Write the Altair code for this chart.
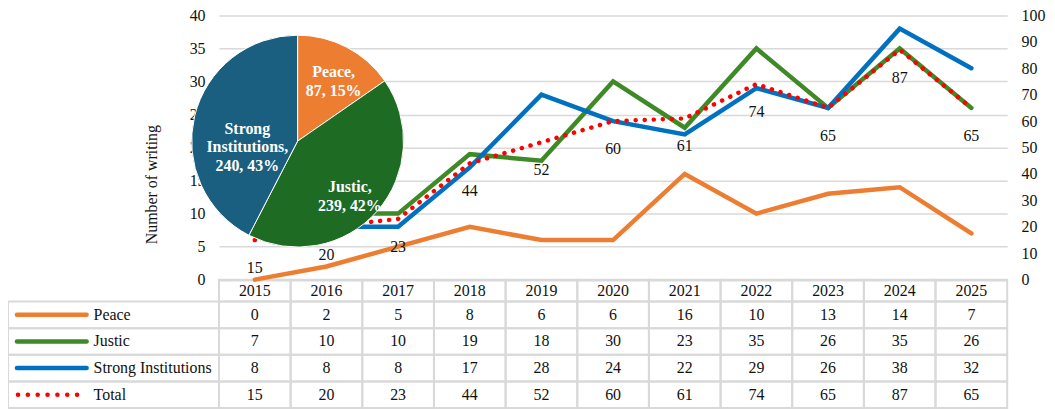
import altair as alt
import pandas as pd

# ---------------- data ----------------
years = ["2015", "2016", "2017", "2018", "2019", "2020", "2021", "2022", "2023", "2024", "2025"]
peace = [0, 2, 5, 8, 6, 6, 16, 10, 13, 14, 7]
justic = [7, 10, 10, 19, 18, 30, 23, 35, 26, 35, 26]
strong = [8, 8, 8, 17, 28, 24, 22, 29, 26, 38, 32]
total = [15, 20, 23, 44, 52, 60, 61, 74, 65, 87, 65]

series_names = ["Peace", "Justic", "Strong Institutions"]
total_name = "Total"
line_colors = ["#ED7D31", "#3F8A26", "#0070C0"]
total_color = "#FF0000"

pie_names = ["Peace", "Justic", "Strong Institutions"]
pie_counts = [87, 239, 240]
pie_pct = [15, 42, 43]
pie_colors = ["#ED7D31", "#1E6B24", "#1A5E80"]

left_ticks = [0, 5, 10, 15, 20, 25, 30, 35, 40]
right_ticks = [0, 10, 20, 30, 40, 50, 60, 70, 80, 90, 100]

# ---------------- layout ----------------
FONT = "Liberation Serif, Times New Roman, DejaVu Serif, serif"
FS = 16
W, H = 792, 265.5
GRID = "#D9D9D9"
TXT = "#111111"
PIE_X, PIE_Y, PIE_R = 79, 126.3, 106.5
PIE_LABEL_R = {"Peace": 78, "Justic": 70, "Strong Institutions": 52}

# ---------------- tables ----------------
series_values = [peace, justic, strong]
lines_df = pd.DataFrame(
    [{"series": s, "year": y, "value": v}
     for s, vals in zip(series_names, series_values)
     for y, v in zip(years, vals)]
)
total_df = pd.DataFrame({"year": years, "total": total})
row_names = series_names + [total_name]
table_df = pd.DataFrame(
    [{"row": s, "year": y, "value": v}
     for s, vals in zip(row_names, series_values + [total])
     for y, v in zip(years, vals)]
)
rows_df = pd.DataFrame({"row": row_names})
legend_df = pd.DataFrame({"row": series_names, "series": series_names})
legend_total_df = pd.DataFrame({"row": [total_name]})
header_df = pd.DataFrame({"year": years})
pie_df = pd.DataFrame({
    "slice": pie_names,
    "count": pie_counts,
    "order": list(range(len(pie_names))),
    "label": [n.replace(" ", "\n") + ",\n" + f"{c}, {p}%"
              for n, c, p in zip(pie_names, pie_counts, pie_pct)],
})

# ---------------- scales ----------------
x_scale = alt.Scale(type="band", domain=years, paddingInner=0, paddingOuter=0)
row_scale = alt.Scale(type="band", domain=row_names, range=[287.5, 394.5],
                      paddingInner=0, paddingOuter=0)
line_color_scale = alt.Scale(domain=series_names, range=line_colors)
pie_color_scale = alt.Scale(domain=pie_names, range=pie_colors)

X_band = alt.X("year:O", scale=x_scale, axis=None)
X_mid = alt.X("year:O", scale=x_scale, axis=None, bandPosition=0.5)
Y_row = alt.Y("row:N", scale=row_scale, axis=None)
Y_row_mid = alt.Y("row:N", scale=row_scale, axis=None, bandPosition=0.5)

# ---------------- table ----------------
header_cells = alt.Chart(header_df).mark_rect(fill="white", fillOpacity=0, stroke=GRID, strokeWidth=2).encode(
    x=X_band, y=alt.value(265.5), y2=alt.value(287.5)
)
header_text = alt.Chart(header_df).mark_text(fontSize=FS, font=FONT, color=TXT, baseline="middle").encode(
    x=X_mid, y=alt.value(277), text="year:N"
)
value_cells = alt.Chart(table_df).mark_rect(fill="white", fillOpacity=0, stroke=GRID, strokeWidth=2).encode(
    x=X_band, y=Y_row
)
value_text = alt.Chart(table_df).mark_text(fontSize=FS, font=FONT, color=TXT, baseline="middle").encode(
    x=X_mid, y=Y_row_mid, text="value:Q"
)
label_cells = alt.Chart(rows_df).mark_rect(fill="white", fillOpacity=0, stroke=GRID, strokeWidth=2).encode(
    x=alt.value(-212), x2=alt.value(0), y=Y_row
)
label_text = alt.Chart(rows_df).mark_text(fontSize=FS, font=FONT, color=TXT, align="left", baseline="middle").encode(
    x=alt.value(-126), y=Y_row_mid, text="row:N"
)
legend_lines = alt.Chart(legend_df).mark_rule(strokeWidth=4.5, strokeCap="round").encode(
    x=alt.value(-203), x2=alt.value(-133), y=Y_row_mid,
    color=alt.Color("series:N", scale=line_color_scale, legend=None)
)
legend_total = alt.Chart(legend_total_df).mark_rule(
    strokeWidth=4.5, strokeCap="round", strokeDash=[0.1, 9.8], color=total_color
).encode(x=alt.value(-202), x2=alt.value(-138), y=Y_row_mid)

# ---------------- lines ----------------
lines = alt.Chart(lines_df).mark_line(strokeWidth=4.5, strokeCap="round").encode(
    x=X_mid,
    y=alt.Y("value:Q", scale=alt.Scale(domain=[0, 40]),
            axis=alt.Axis(values=left_ticks, grid=True, gridColor=GRID, gridWidth=1.5,
                          domain=False, ticks=False, labelPadding=14,
                          title="Number of writing", titleX=-68, titleY=169.5,
                          titleBaseline="middle", titleAlign="center",
                          titleFontWeight="normal")),
    color=alt.Color("series:N", scale=line_color_scale, legend=None),
    detail="series:N",
)
total_line = alt.Chart(total_df).mark_line(
    strokeWidth=4.5, strokeCap="round", strokeDash=[0.1, 9], color=total_color
).encode(
    x=X_mid,
    y=alt.Y("total:Q", scale=alt.Scale(domain=[0, 100]),
            axis=alt.Axis(orient="right", values=right_ticks, grid=False, domain=False,
                          ticks=False, labelPadding=14, title="")),
)
total_labels = alt.Chart(total_df).mark_text(fontSize=FS, font=FONT, color=TXT, dy=28, baseline="middle").encode(
    x=X_mid,
    y=alt.Y("total:Q", scale=alt.Scale(domain=[0, 100]), axis=None),
    text="total:Q",
)

# ---------------- pie ----------------
pie = alt.Chart(pie_df).mark_arc(radius=PIE_R, stroke="white", strokeWidth=1).encode(
    theta=alt.Theta("count:Q", stack=True),
    order=alt.Order("order:Q"),
    color=alt.Color("slice:N", scale=pie_color_scale, legend=None),
    x=alt.value(PIE_X), y=alt.value(PIE_Y),
)

pie_label_layers = []
for name in pie_names:
    pie_label_layers.append(
        alt.Chart(pie_df).transform_window(
            cum="sum(count)", sort=[alt.SortField("order")], frame=[None, 0]
        ).transform_joinaggregate(
            tot="sum(count)"
        ).transform_calculate(
            mid="2*PI*(datum.cum - datum.count/2)/datum.tot"
        ).transform_filter(
            alt.datum.slice == name
        ).mark_text(
            radius=PIE_LABEL_R[name], fontSize=16, font=FONT, fontWeight="bold",
            color="white", lineBreak="\n", lineHeight=18.5, align="center", baseline="middle"
        ).encode(
            theta=alt.Theta("mid:Q", scale=None),
            text="label:N",
            x=alt.value(PIE_X), y=alt.value(PIE_Y),
        )
    )

chart = alt.layer(
    header_cells, value_cells, label_cells,
    header_text, value_text, label_text, legend_lines, legend_total,
    lines, total_line, pie, *pie_label_layers, total_labels,
).resolve_scale(
    y="independent", color="independent", theta="independent"
).properties(
    width=W, height=H,
    autosize=alt.AutoSizeParams(type="none"),
    padding={"left": 212, "top": 6.5, "right": 40, "bottom": 129},
).configure_view(
    stroke="transparent"
).configure_axis(
    labelFont=FONT, titleFont=FONT, labelFontSize=FS, titleFontSize=FS,
    labelColor=TXT, titleColor=TXT,
).configure_text(font=FONT)

chart.save("out.html", embed_options={"renderer": "svg", "actions": False})
